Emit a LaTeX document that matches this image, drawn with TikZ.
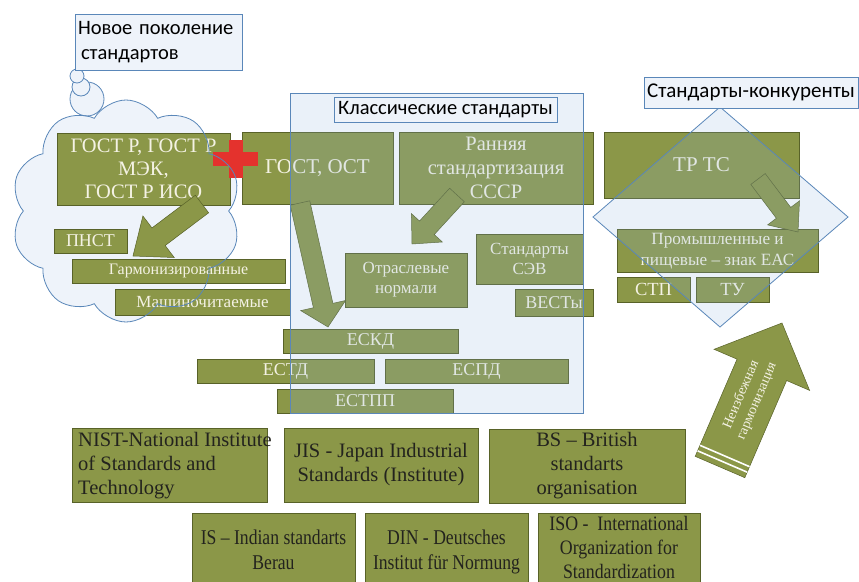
\documentclass[tikz,border=0pt]{standalone}
\usepackage{fontspec}
\usepackage{graphicx}
\setmainfont{Liberation Serif}
\newfontfamily\titlefont{Carlito}
\usetikzlibrary{calc,shapes.symbols,shapes.geometric}
\definecolor{olivebox}{RGB}{139,151,72}
\definecolor{oliveline}{RGB}{88,98,40}
\definecolor{lighttext}{RGB}{244,242,228}
\definecolor{darktext}{RGB}{35,35,30}
\definecolor{panelblue}{RGB}{140,180,225}
\definecolor{edgeblue}{RGB}{90,135,185}
\definecolor{titlefill}{RGB}{238,243,250}
\definecolor{crossred}{RGB}{228,50,45}
\tikzset{
  gbox/.style={draw=oliveline, fill=olivebox, line width=0.8pt, inner sep=0pt,
    text=lighttext, align=center, font=\fontsize{20}{23}\selectfont},
  wbox/.style={gbox, text=darktext, font=\fontsize{20.5}{24}\selectfont},
  titlebox/.style={draw=edgeblue, fill=titlefill, line width=0.8pt, inner sep=0pt,
    text=black, font=\titlefont\fontsize{20.5}{25}\selectfont},
  arrowfill/.style={fill=olivebox, draw=oliveline, line width=0.5pt},
  panel/.style={draw=edgeblue, fill=panelblue, fill opacity=0.18, line width=0.8pt},
  cloudshape/.style={cloud, cloud puffs=10, cloud puff arc=120, aspect=1.05,
    minimum width=230pt, minimum height=222pt, inner sep=0pt},
  squeezed/.style={text=darktext, inner sep=0pt},
}
\newcommand\squeezetext[2]{\scalebox{#1}[1]{\begin{tabular}{@{}c@{}}#2\end{tabular}}}
\newcommand\blockarrow[5]{%
  \coordinate (#1h) at ($(#2)!#5!(#1)$);
  \filldraw[arrowfill] ($(#1)!#3!90:(#2)$) -- ($(#1h)!#3!-90:(#1)$) -- ($(#1h)!#4!-90:(#1)$)
    -- (#2) -- ($(#1h)!#4!90:(#1)$) -- ($(#1h)!#3!90:(#1)$) -- ($(#1)!#3!-90:(#2)$) -- cycle;
}
\begin{document}
\begin{tikzpicture}[x=1pt,y=-1pt]
\useasboundingbox (0,0) rectangle (859,581);
\fill[white] (0,0) rectangle (859,581);

% cloud background
\node[cloudshape, fill=titlefill] (cloudbg) at (126,211) {};
\filldraw[draw=edgeblue, fill=titlefill, line width=0.8pt] (87,99) circle (17);
\filldraw[draw=edgeblue, fill=titlefill, line width=0.8pt] (81,87) circle (9);
\filldraw[draw=edgeblue, fill=titlefill, line width=0.8pt] (77,76) circle (7);

% upper green boxes
\node[gbox, minimum width=173pt, minimum height=72pt, font=\fontsize{20.5}{23}\selectfont] (gostr) at (143.5,169) {ГОСТ Р, ГОСТ Р\\МЭК,\\ГОСТ Р ИСО};
\node[gbox, minimum width=151pt, minimum height=72pt, font=\fontsize{21}{24}\selectfont] (gost) at (317.5,168) {ГОСТ, ОСТ};
\node[gbox, minimum width=194pt, minimum height=72pt, font=\fontsize{20.5}{24}\selectfont] (rann) at (496,168) {Ранняя\\стандартизация\\СССР};
\node[gbox, minimum width=195pt, minimum height=66pt, font=\fontsize{21}{24}\selectfont] (trts) at (701.5,165) {ТР ТС};

\node[gbox, minimum width=73pt, minimum height=24pt, font=\fontsize{18}{20}\selectfont] (pnst) at (90.5,241) {ПНСТ};
\node[gbox, minimum width=213pt, minimum height=24pt, font=\fontsize{16}{18}\selectfont] (garm) at (178.5,271) {Гармонизированные};
\node[gbox, minimum width=175pt, minimum height=26pt, font=\fontsize{17}{19}\selectfont] (mash) at (202.5,302) {Машиночитаемые};

\node[gbox, minimum width=122pt, minimum height=54pt, font=\fontsize{17}{20}\selectfont] (otrasl) at (406,280) {Отраслевые\\нормали};
\node[gbox, minimum width=107pt, minimum height=50pt, font=\fontsize{17}{20}\selectfont] (sev) at (529.5,259) {Стандарты\\СЭВ};
\node[gbox, minimum width=78pt, minimum height=27pt, font=\fontsize{18}{20}\selectfont] (vest) at (554,302.5) {ВЕСТы};

\node[gbox, minimum width=175pt, minimum height=24pt, font=\fontsize{18}{20}\selectfont] (eskd) at (370.5,341) {ЕСКД};
\node[gbox, minimum width=177pt, minimum height=24pt, font=\fontsize{18}{20}\selectfont] (estd) at (285.5,371) {ЕСТД};
\node[gbox, minimum width=183pt, minimum height=24pt, font=\fontsize{18}{20}\selectfont] (espd) at (476.5,371) {ЕСПД};
\node[gbox, minimum width=176pt, minimum height=24pt, font=\fontsize{18}{20}\selectfont] (estpp) at (365,401) {ЕСТПП};

\node[gbox, minimum width=201pt, minimum height=43pt, font=\fontsize{17.2}{21}\selectfont] (prom) at (717.5,251) {Промышленные и\\пищевые – знак ЕАС};
\node[gbox, minimum width=73pt, minimum height=25pt, font=\fontsize{18.5}{20}\selectfont] (stp) at (653.5,289.5) {СТП};
\node[gbox, minimum width=73pt, minimum height=25pt, font=\fontsize{18.5}{20}\selectfont] (tu) at (732.5,289.5) {ТУ};

% block arrows
\coordinate (a1s) at (202,204);
\coordinate (a1t) at (133,256);
\blockarrow{a1s}{a1t}{11pt}{26pt}{32pt}
\coordinate (a2s) at (300,203);
\coordinate (a2t) at (328,327);
\blockarrow{a2s}{a2t}{10pt}{23pt}{22pt}
\coordinate (a3s) at (457,195);
\coordinate (a3t) at (412,244);
\blockarrow{a3s}{a3t}{10pt}{21pt}{22pt}
\coordinate (a4s) at (758,179);
\coordinate (a4t) at (798,232);
\blockarrow{a4s}{a4t}{9pt}{20pt}{24pt}

% red cross
\fill[crossred] (213,152) rectangle (258,166);
\fill[crossred] (229,140) rectangle (243,178);

% cloud outline on top
\node[cloudshape, draw=edgeblue, line width=0.8pt] (cloud) at (126,211) {};

% panel of classic standards
\filldraw[panel] (290,93) rectangle (583,413);
\node[titlebox, minimum width=223pt, minimum height=25pt] (classic) at (445.5,109.5) {Классические стандарты};

% diamond of competitors
\filldraw[panel] (720,107) -- (848,217) -- (720,327) -- (593,217) -- cycle;
\node[titlebox, minimum width=214pt, minimum height=31pt, font=\titlefont\fontsize{21}{25}\selectfont] (konk) at (751,92.5) {Стандарты-конкуренты};

% new generation title
\node[titlebox, minimum width=167pt, minimum height=56pt, inner xsep=3pt, text width=161pt, align=left] (novoe) at (158.5,42) {Новое поколение\\\hspace*{3pt}стандартов};

% harmonisation arrow
\coordinate (h5s) at (720,467);
\coordinate (h5t) at (782,323);
\blockarrow{h5s}{h5t}{27pt}{52pt}{51pt}
\coordinate (st1) at ($(h5s)!6pt!(h5t)$);
\coordinate (st2) at ($(h5s)!12pt!(h5t)$);
\draw[white, line width=1.6pt] ($(st1)!27pt!90:(h5t)$) -- ($(st1)!27pt!-90:(h5t)$);
\draw[white, line width=1.6pt] ($(st2)!27pt!90:(h5t)$) -- ($(st2)!27pt!-90:(h5t)$);
\node[rotate=67, text=lighttext, align=center, font=\fontsize{14}{17}\selectfont, inner sep=0pt] (harm) at (749,398) {Неизбежная\\гармонизация};

% international standards
\node[wbox, minimum width=195pt, minimum height=74pt] (nist) at (169.5,465) {};
\node[anchor=west, align=left, text=darktext, inner sep=0pt, font=\fontsize{20.5}{24}\selectfont] (nisttxt) at (78,466) {NIST-National Institute\\of Standards and\\Technology};
\node[wbox, minimum width=194pt, minimum height=74pt] (jis) at (381,465) {JIS - Japan Industrial\\Standards (Institute)};
\node[wbox, minimum width=196pt, minimum height=74pt] (bs) at (587,466) {BS – British\\standarts\\organisation};
\node[wbox, minimum width=163pt, minimum height=74pt] (is) at (273.5,550) {};
\node[wbox, minimum width=163pt, minimum height=74pt] (din) at (446.5,550) {};
\node[wbox, minimum width=162pt, minimum height=74pt] (iso) at (619,550) {};
\node[squeezed, font=\fontsize{21}{25}\selectfont] (istxt) at (273.5,552) {\squeezetext{0.84}{IS – Indian standarts\\Berau}};
\node[squeezed, font=\fontsize{21}{25}\selectfont] (dintxt) at (446.5,552) {\squeezetext{0.84}{DIN - Deutsches\\Institut für Normung}};
\node[squeezed, font=\fontsize{20.5}{24}\selectfont] (isotxt) at (619,550) {\squeezetext{0.87}{ISO -\ \ International\\Organization for\\Standardization}};
\end{tikzpicture}
\end{document}
